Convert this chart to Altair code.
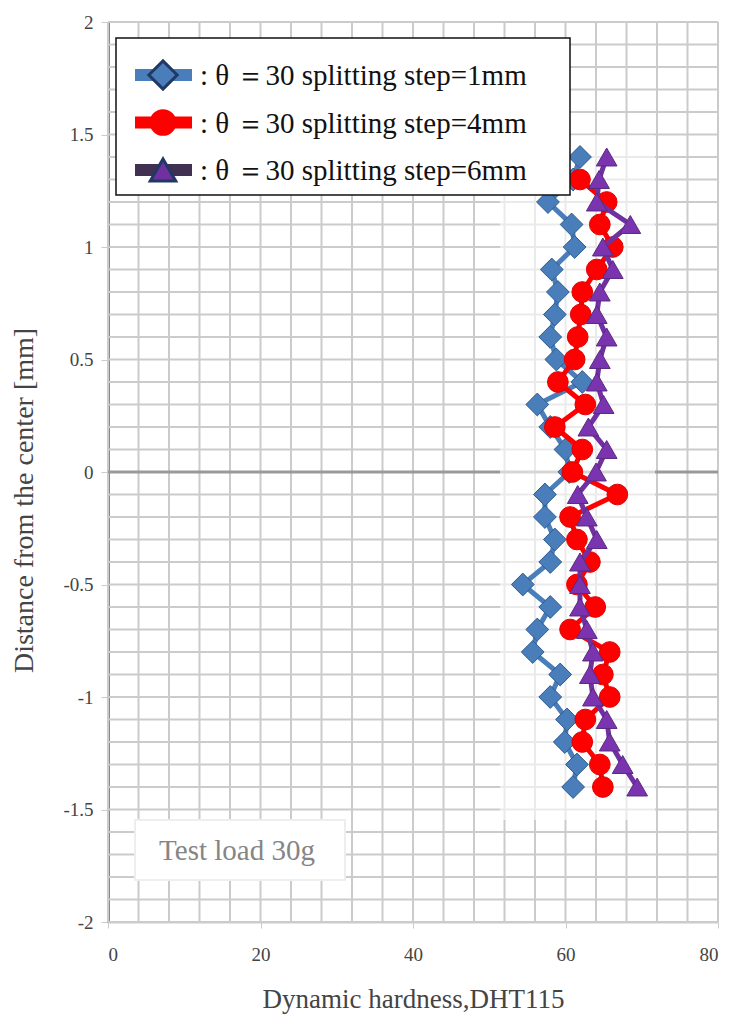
import altair as alt
import pandas as pd
import numpy as np

# ---------------- data ----------------
positions = [1.4, 1.3, 1.2, 1.1, 1.0, 0.9, 0.8, 0.7, 0.6, 0.5, 0.4, 0.3, 0.2, 0.1, 0.0,
             -0.1, -0.2, -0.3, -0.4, -0.5, -0.6, -0.7, -0.8, -0.9, -1.0, -1.1, -1.2, -1.3, -1.4]

hardness_1mm = [61.9, 61.0, 57.7, 60.8, 61.2, 58.2, 59.0, 58.6, 58.0, 58.8, 62.2, 56.3, 58.0, 60.0, 60.5,
                57.3, 57.3, 58.6, 58.0, 54.4, 58.0, 56.3, 55.7, 59.3, 58.0, 60.2, 59.9, 61.5, 61.0]

positions_4mm = [1.3, 1.2, 1.1, 1.0, 0.9, 0.8, 0.7, 0.6, 0.5, 0.4, 0.3, 0.2, 0.1, 0.0,
                 -0.1, -0.2, -0.3, -0.4, -0.5, -0.6, -0.7, -0.8, -0.9, -1.0, -1.1, -1.2, -1.3, -1.4]
hardness_4mm = [61.9, 65.4, 64.5, 66.2, 64.1, 62.2, 62.0, 61.6, 61.2, 59.0, 62.6, 58.6, 62.2, 60.9,
                66.8, 60.6, 61.5, 63.2, 61.5, 63.9, 60.6, 65.8, 64.9, 65.8, 62.6, 62.2, 64.5, 64.9]

hardness_6mm = [65.4, 64.4, 64.1, 68.5, 64.9, 66.2, 64.5, 64.1, 65.4, 64.5, 64.1, 65.0, 63.0, 65.4, 64.0,
                61.6, 62.8, 64.1, 61.9, 61.9, 61.9, 62.8, 63.6, 63.2, 63.6, 65.4, 65.8, 67.5, 69.4]

series_labels = [":  θ ＝30 splitting step=1mm",
                 ":  θ ＝30 splitting step=4mm",
                 ":  θ ＝30 splitting step=6mm"]

x_ticks = [0, 20, 40, 60, 80]
y_ticks = [-2, -1.5, -1, -0.5, 0, 0.5, 1, 1.5, 2]
x_title = "Dynamic hardness,DHT115"
y_title = "Distance from the center [mm]"
annotation = "Test load 30g"

# ---------------- styling ----------------
W, H = 610, 900
SERIF = "Liberation Serif"
GRID = "#cbcbcb"
xs = alt.Scale(domain=[0, 80], nice=False, zero=False)
ys = alt.Scale(domain=[-2, 2], nice=False, zero=False)

x_axis = alt.Axis(values=x_ticks, grid=False, title=x_title,
                  domainColor=GRID, domainWidth=2, tickColor=GRID, tickSize=6,
                  labelFont=SERIF, labelFontSize=19, labelColor="#444", labelPadding=17,
                  titleFont=SERIF, titleFontSize=27, titleFontWeight="normal",
                  titleColor="#444", titlePadding=22)
y_axis = alt.Axis(values=y_ticks, grid=False, title=y_title, labelExpr="'' + datum.value",
                  domainColor="#888888", domainWidth=3, tickColor=GRID, tickSize=7,
                  labelFont=SERIF, labelFontSize=19, labelColor="#444", labelPadding=8,
                  titleFont=SERIF, titleFontSize=28, titleFontWeight="normal", titleColor="#444",
                  titleAngle=270, titleX=-84, titleY=478, titleAlign="center",
                  titleBaseline="middle")


def X(field):
    return alt.X(field, scale=xs, axis=x_axis)


def Y(field):
    return alt.Y(field, scale=ys, axis=y_axis)


# ---------------- grid ----------------
hgrid = pd.DataFrame({"v": np.round(np.arange(-2, 2.001, 0.1), 2)})
vgrid = pd.DataFrame({"v": np.arange(0, 81, 4)})
hgrid_layer = alt.Chart(hgrid).mark_rule(color=GRID, strokeWidth=2).encode(y=Y("v:Q"))
vgrid_layer = alt.Chart(vgrid).mark_rule(color=GRID, strokeWidth=2).encode(x=X("v:Q"))
zero_layer = alt.Chart(pd.DataFrame({"v": [0]})).mark_rule(color="#999999", strokeWidth=3).encode(
    y=Y("v:Q"))

# faded background behind the measured points (pasted-image look)
fade_layer = alt.Chart(pd.DataFrame({"a": [0]})).mark_rect(color="white", opacity=0.6).encode(
    x=alt.value(392), x2=alt.value(547), y=alt.value(113), y2=alt.value(798))


def series(pos, vals, line_color, shape, size, fill, stroke):
    df = pd.DataFrame({"pos": pos, "val": vals})
    enc = dict(x=X("val:Q"), y=Y("pos:Q"))
    line = alt.Chart(df).mark_line(color=line_color, strokeWidth=5).encode(
        order=alt.Order("pos:Q", sort="descending"), **enc)
    pts = alt.Chart(df).mark_point(shape=shape, size=size, filled=True, fill=fill,
                                   stroke=stroke, strokeWidth=1, opacity=1).encode(**enc)
    return line + pts


s1 = series(positions, hardness_1mm, "#4a7ebb", "diamond", 520, "#4a7ebb", "#2d5c8f")
s2 = series(positions_4mm, hardness_4mm, "#ff0000", "circle", 430, "#ff0000", "#e00000")
s3 = series(positions, hardness_6mm, "#7030a0", "triangle-up", 430, "#7a34b0", "#5a2a80")

# ---------------- annotation box ----------------
ann_box = alt.Chart(pd.DataFrame({"a": [0]})).mark_rect(
    fill="white", stroke="#eeeeee", strokeWidth=2).encode(
    x=alt.value(27), x2=alt.value(237), y=alt.value(798), y2=alt.value(858))
ann_text = alt.Chart(pd.DataFrame({"t": [annotation]})).mark_text(
    font=SERIF, fontSize=29, color="#858585", align="center", baseline="middle").encode(
    x=alt.value(129), y=alt.value(829), text="t:N")

# ---------------- legend (drawn in pixels) ----------------
leg_layers = [alt.Chart(pd.DataFrame({"a": [0]})).mark_rect(
    fill="white", stroke="#111111", strokeWidth=1.5).encode(
    x=alt.value(8), x2=alt.value(462), y=alt.value(16), y2=alt.value(173))]
leg_styles = [("#4a7ebb", "diamond", 800, "#4a7ebb", "#1f3864"),
              ("#ff0000", "circle", 560, "#ff0000", "#ff0000"),
              ("#403152", "triangle-up", 650, "#7030a0", "#1f3864")]
for i, (lab, (lc, shp, sz, fc, sc)) in enumerate(zip(series_labels, leg_styles)):
    ly = 53 + 47.5 * i
    d = pd.DataFrame({"t": [lab]})
    leg_layers.append(alt.Chart(d).mark_rule(color=lc, strokeWidth=12).encode(
        x=alt.value(27), x2=alt.value(84), y=alt.value(ly)))
    leg_layers.append(alt.Chart(d).mark_point(shape=shp, size=sz, filled=True, fill=fc,
                                              stroke=sc, strokeWidth=3, opacity=1).encode(
        x=alt.value(55), y=alt.value(ly)))
    leg_layers.append(alt.Chart(d).mark_text(font=SERIF, fontSize=29, color="#111111",
                                             align="left", baseline="middle").encode(
        x=alt.value(92), y=alt.value(ly + 1), text="t:N"))

chart = alt.layer(
    hgrid_layer, vgrid_layer, zero_layer, fade_layer, s1, s2, s3, ann_box, ann_text, *leg_layers
).properties(
    width=W, height=H,
    padding={"left": 108, "top": 22, "right": 11, "bottom": 99},
    autosize="none", background="white"
).configure_view(strokeWidth=0)

chart.save("out.html", embed_options={"renderer": "svg", "actions": False})
